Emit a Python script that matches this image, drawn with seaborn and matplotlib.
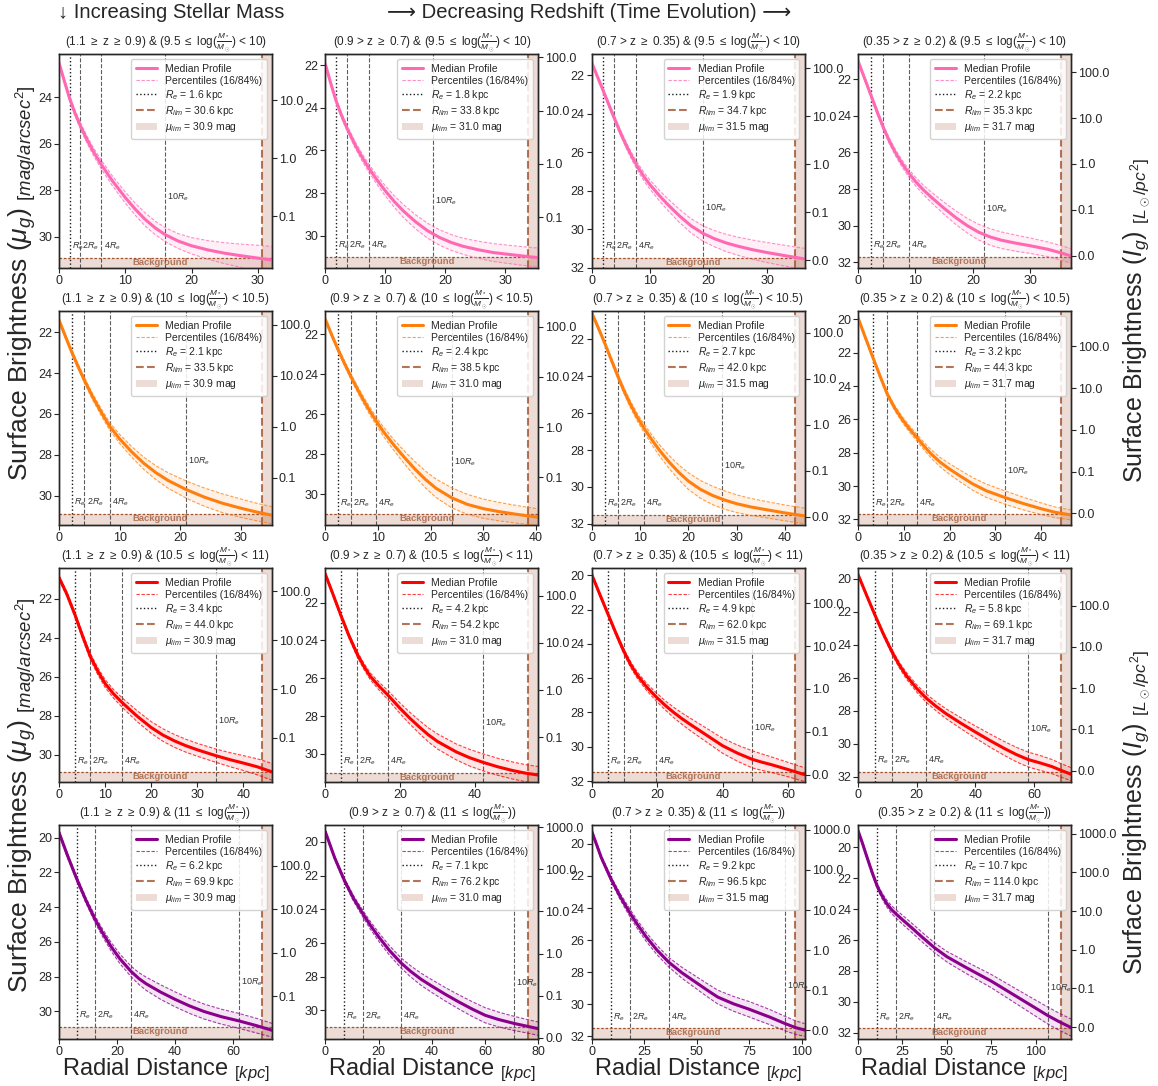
import numpy as np
import pandas as pd
import matplotlib
matplotlib.use("Agg")
import matplotlib.pyplot as plt
import seaborn as sns
from matplotlib.ticker import MultipleLocator, LogLocator, NullLocator, FormatStrFormatter

# ---------------- data ----------------
Z_LABELS = [r"(1.1 $\geq$ z $\geq$ 0.9)", r"(0.9 > z $\geq$ 0.7)",
            r"(0.7 > z $\geq$ 0.35)", r"(0.35 > z $\geq$ 0.2)"]
M_LABELS = [r"(9.5 $\leq$ log($\frac{M_*}{M_\odot}$) < 10)",
            r"(10 $\leq$ log($\frac{M_*}{M_\odot}$) < 10.5)",
            r"(10.5 $\leq$ log($\frac{M_*}{M_\odot}$) < 11)",
            r"(11 $\leq$ log($\frac{M_*}{M_\odot}$))"]
RE = [[1.6, 1.8, 1.9, 2.2],
      [2.1, 2.4, 2.7, 3.2],
      [3.4, 4.2, 4.9, 5.8],
      [6.2, 7.1, 9.2, 10.7]]
RLIM = [[30.6, 33.8, 34.7, 35.3],
        [33.5, 38.5, 42.0, 44.3],
        [44.0, 54.2, 62.0, 69.1],
        [69.9, 76.2, 96.5, 114.0]]
MU_LIM = [30.9, 31.0, 31.5, 31.7]
ROW_COLORS = ["hotpink", "#ff7f0e", "red", "darkmagenta"]

# median profiles (mu_g, mag/arcsec^2) and half-width of the 16/84 percentile band
R_1_1 = [0, 0.8, 1.6, 2.4, 3.2, 4.2, 5.2, 6.4, 8, 10, 11.5, 13, 14.5, 16, 18, 20, 22.5, 25, 27.5, 30, 32.2]
MU_1_1 = [22.53, 23.31, 24.06, 24.68, 25.22, 25.82, 26.35, 26.91, 27.58, 28.32, 28.82, 29.26, 29.62, 29.91, 30.19, 30.39, 30.57, 30.71, 30.82, 30.92, 31.0]
SD_1_1 = [0.08, 0.09, 0.11, 0.12, 0.14, 0.15, 0.17, 0.19, 0.21, 0.24, 0.26, 0.28, 0.29, 0.3, 0.32, 0.35, 0.4, 0.45, 0.5, 0.55, 0.58]

R_1_2 = [0, 0.9, 1.8, 2.7, 3.6, 5, 6.2, 7.2, 8.6, 10, 11.5, 13, 15, 17, 19, 21, 23, 25.5, 28, 31, 33.5, 35.5]
MU_1_2 = [21.95, 22.85, 23.68, 24.36, 24.95, 25.76, 26.36, 26.81, 27.38, 27.90, 28.40, 28.84, 29.34, 29.76, 30.08, 30.32, 30.50, 30.66, 30.79, 30.89, 30.97, 31.03]
SD_1_2 = [0.08, 0.09, 0.1, 0.12, 0.13, 0.15, 0.17, 0.19, 0.21, 0.24, 0.27, 0.3, 0.33, 0.35, 0.36, 0.37, 0.38, 0.4, 0.42, 0.43, 0.44, 0.45]

R_1_3 = [0, 1, 2, 3, 4, 5, 6, 7, 8, 9, 10, 11.5, 13, 15, 17, 19, 21, 23, 25, 27.5, 30, 33, 36.4]
MU_1_3 = [21.34, 22.08, 22.82, 23.58, 24.32, 25.04, 25.70, 26.30, 26.83, 27.30, 27.70, 28.23, 28.72, 29.31, 29.83, 30.22, 30.50, 30.72, 30.89, 31.07, 31.22, 31.38, 31.55]
SD_1_3 = [0.08, 0.09, 0.1, 0.12, 0.13, 0.14, 0.16, 0.18, 0.2, 0.22, 0.24, 0.27, 0.3, 0.34, 0.37, 0.4, 0.42, 0.45, 0.47, 0.5, 0.52, 0.54, 0.55]

R_1_4 = [0, 1.1, 2.2, 3.3, 4.4, 5.5, 6.5, 7.6, 8.8, 10, 11.5, 13, 15, 17, 19, 21, 23, 25, 27.5, 30, 33, 35, 37.1]
MU_1_4 = [21.0, 21.91, 22.83, 23.75, 24.63, 25.40, 26.0, 26.57, 27.11, 27.58, 28.08, 28.51, 29.05, 29.55, 29.99, 30.35, 30.61, 30.79, 30.95, 31.09, 31.28, 31.45, 31.65]
SD_1_4 = [0.08, 0.09, 0.1, 0.12, 0.13, 0.15, 0.17, 0.19, 0.21, 0.23, 0.26, 0.29, 0.33, 0.37, 0.4, 0.43, 0.45, 0.45, 0.44, 0.42, 0.4, 0.4, 0.4]

R_2_1 = [0, 1.05, 2.1, 3.15, 4.2, 5.5, 7, 8.4, 10, 12, 14, 16, 18, 21, 24, 27, 30, 32.5, 35.2]
MU_2_1 = [21.4, 22.19, 22.96, 23.67, 24.35, 25.13, 25.93, 26.62, 27.22, 27.86, 28.42, 28.88, 29.26, 29.71, 30.08, 30.38, 30.62, 30.80, 30.97]
SD_2_1 = [0.08, 0.09, 0.1, 0.12, 0.13, 0.15, 0.17, 0.19, 0.22, 0.26, 0.3, 0.34, 0.38, 0.42, 0.45, 0.46, 0.45, 0.43, 0.42]

R_2_2 = [0, 1.2, 2.4, 3.6, 4.8, 6, 7.2, 8.4, 9.6, 11, 13, 15, 17, 19, 21, 24, 27, 30, 33, 36.5, 40.4]
MU_2_2 = [21.25, 22.02, 22.75, 23.43, 24.08, 24.69, 25.27, 25.81, 26.31, 26.85, 27.53, 28.15, 28.73, 29.25, 29.69, 30.17, 30.50, 30.71, 30.86, 31.00, 31.14]
SD_2_2 = [0.08, 0.09, 0.1, 0.12, 0.13, 0.15, 0.17, 0.19, 0.2, 0.23, 0.27, 0.32, 0.37, 0.42, 0.46, 0.5, 0.5, 0.48, 0.46, 0.44, 0.42]

R_2_3 = [0, 1.35, 2.7, 4, 5.4, 6.7, 8, 9.4, 10.8, 12.5, 14, 16, 18, 20, 22.5, 25, 27.5, 30, 33, 36.5, 40, 44.1]
MU_2_3 = [20.55, 21.36, 22.20, 23.06, 23.98, 24.79, 25.51, 26.20, 26.80, 27.46, 28.00, 28.64, 29.20, 29.68, 30.13, 30.46, 30.71, 30.91, 31.09, 31.25, 31.41, 31.57]
SD_2_3 = [0.08, 0.09, 0.1, 0.12, 0.14, 0.16, 0.18, 0.2, 0.23, 0.26, 0.3, 0.35, 0.4, 0.45, 0.48, 0.5, 0.5, 0.48, 0.46, 0.44, 0.43, 0.42]

R_2_4 = [0, 1.6, 3.2, 4.8, 6.4, 8, 9.6, 11.2, 12.8, 14.5, 16, 18, 20, 22.5, 25, 28, 32, 36, 40, 43, 46.5]
MU_2_4 = [19.9, 21.08, 22.24, 23.39, 24.48, 25.31, 25.98, 26.56, 27.07, 27.63, 28.08, 28.58, 28.98, 29.43, 29.86, 30.28, 30.68, 31.04, 31.36, 31.57, 31.73]
SD_2_4 = [0.08, 0.09, 0.1, 0.12, 0.13, 0.15, 0.17, 0.19, 0.2, 0.22, 0.25, 0.28, 0.32, 0.35, 0.38, 0.4, 0.4, 0.38, 0.35, 0.32, 0.3]

R_3_1 = [0, 1.7, 3.4, 5.1, 6.8, 8.4, 10, 11.8, 13.6, 15.3, 17, 20, 22.5, 25, 27.5, 30, 34, 37, 40, 43, 46.2]
MU_3_1 = [20.92, 21.77, 22.79, 23.91, 24.97, 25.71, 26.35, 26.87, 27.30, 27.67, 28.03, 28.60, 28.98, 29.28, 29.53, 29.74, 30.04, 30.24, 30.42, 30.61, 30.87]
SD_3_1 = [0.1, 0.11, 0.12, 0.14, 0.16, 0.18, 0.2, 0.22, 0.24, 0.26, 0.28, 0.3, 0.32, 0.33, 0.33, 0.33, 0.34, 0.36, 0.38, 0.41, 0.43]

R_3_2 = [0, 2.1, 4.2, 6.3, 8.4, 10.2, 12, 14.4, 16.8, 20, 22.5, 25, 27.5, 30, 35, 38.5, 42, 46, 50, 53.5, 56.9]
MU_3_2 = [20.5, 21.59, 22.70, 23.75, 24.68, 25.34, 25.90, 26.43, 26.91, 27.60, 28.10, 28.56, 28.99, 29.35, 29.90, 30.20, 30.44, 30.68, 30.88, 31.02, 31.12]
SD_3_2 = [0.08, 0.09, 0.1, 0.12, 0.14, 0.16, 0.18, 0.21, 0.24, 0.28, 0.31, 0.34, 0.37, 0.4, 0.42, 0.44, 0.45, 0.45, 0.45, 0.45, 0.45]

R_3_3 = [0, 2.45, 4.9, 7.35, 9.8, 12, 14, 16.8, 19.6, 22.5, 25, 27.5, 30, 35, 40, 44.5, 49, 52, 55, 60, 65.1]
MU_3_3 = [19.94, 21.09, 22.22, 23.35, 24.42, 25.24, 25.84, 26.51, 27.07, 27.59, 27.99, 28.35, 28.68, 29.31, 29.94, 30.37, 30.73, 30.90, 31.05, 31.33, 31.63]
SD_3_3 = [0.08, 0.09, 0.1, 0.12, 0.15, 0.17, 0.19, 0.21, 0.24, 0.27, 0.3, 0.33, 0.36, 0.4, 0.44, 0.47, 0.5, 0.48, 0.45, 0.42, 0.4]

R_3_4 = [0, 2.9, 5.8, 8.7, 11.6, 14, 16.5, 20, 23.2, 26.5, 30, 35, 40, 45, 50, 54, 58, 62, 66, 69, 72.6]
MU_3_4 = [19.74, 20.99, 22.21, 23.37, 24.44, 25.21, 25.88, 26.65, 27.23, 27.72, 28.18, 28.75, 29.29, 29.81, 30.30, 30.66, 30.96, 31.16, 31.38, 31.60, 31.85]
SD_3_4 = [0.08, 0.09, 0.1, 0.12, 0.15, 0.17, 0.2, 0.22, 0.25, 0.27, 0.3, 0.33, 0.37, 0.4, 0.42, 0.44, 0.45, 0.45, 0.43, 0.41, 0.4]

R_4_1 = [0, 3.1, 6.2, 9.3, 12.4, 15, 18, 21, 24.8, 27.5, 30, 35, 40, 45, 50, 56, 62, 68, 73.4]
MU_4_1 = [19.71, 21.11, 22.41, 23.62, 24.70, 25.48, 26.29, 26.98, 27.70, 28.11, 28.41, 28.89, 29.31, 29.69, 30.01, 30.31, 30.55, 30.82, 31.09]
SD_4_1 = [0.1, 0.12, 0.14, 0.16, 0.19, 0.22, 0.25, 0.28, 0.3, 0.34, 0.38, 0.42, 0.43, 0.43, 0.43, 0.43, 0.43, 0.42, 0.4]

R_4_2 = [0, 3.5, 7.1, 10.6, 14.2, 17, 20, 24, 28.4, 32, 36, 40, 45, 50, 55, 60, 65, 71, 76, 80]
MU_4_2 = [19.4, 20.94, 22.27, 23.36, 24.29, 24.97, 25.63, 26.43, 27.18, 27.68, 28.16, 28.56, 29.04, 29.49, 29.91, 30.29, 30.54, 30.78, 30.95, 31.09]
SD_4_2 = [0.08, 0.1, 0.13, 0.17, 0.2, 0.23, 0.26, 0.28, 0.3, 0.33, 0.36, 0.38, 0.4, 0.42, 0.44, 0.45, 0.44, 0.42, 0.4, 0.4]

R_4_3 = [0, 4.6, 9.2, 13.8, 18.4, 22, 26, 31, 36.8, 43, 50, 55, 60, 67.5, 75, 80, 85, 92, 97, 101.3]
MU_4_3 = [19.2, 20.86, 22.19, 23.34, 24.35, 25.07, 25.81, 26.61, 27.39, 28.04, 28.67, 29.12, 29.55, 29.97, 30.31, 30.56, 30.81, 31.20, 31.45, 31.60]
SD_4_3 = [0.08, 0.12, 0.15, 0.2, 0.24, 0.26, 0.28, 0.29, 0.3, 0.34, 0.38, 0.41, 0.43, 0.46, 0.48, 0.48, 0.47, 0.45, 0.42, 0.4]

R_4_4 = [0, 2.4, 5, 8, 10.8, 13.4, 16, 18.7, 21.5, 25.8, 30, 36.5, 43, 50, 60, 75, 90, 100, 107, 113, 119.7]
MU_4_4 = [18.93, 19.71, 20.63, 21.65, 22.52, 23.12, 23.62, 24.02, 24.33, 24.77, 25.19, 25.86, 26.50, 27.08, 27.73, 28.66, 29.71, 30.41, 30.90, 31.27, 31.65]
SD_4_4 = [0.08, 0.1, 0.12, 0.14, 0.16, 0.19, 0.22, 0.25, 0.27, 0.29, 0.3, 0.31, 0.32, 0.34, 0.38, 0.43, 0.48, 0.52, 0.55, 0.55, 0.55]

PROFILES = [[(R_1_1, MU_1_1, SD_1_1), (R_1_2, MU_1_2, SD_1_2), (R_1_3, MU_1_3, SD_1_3), (R_1_4, MU_1_4, SD_1_4)],
            [(R_2_1, MU_2_1, SD_2_1), (R_2_2, MU_2_2, SD_2_2), (R_2_3, MU_2_3, SD_2_3), (R_2_4, MU_2_4, SD_2_4)],
            [(R_3_1, MU_3_1, SD_3_1), (R_3_2, MU_3_2, SD_3_2), (R_3_3, MU_3_3, SD_3_3), (R_3_4, MU_3_4, SD_3_4)],
            [(R_4_1, MU_4_1, SD_4_1), (R_4_2, MU_4_2, SD_4_2), (R_4_3, MU_4_3, SD_4_3), (R_4_4, MU_4_4, SD_4_4)]]

# ---------------- layout (axis limits in mag/arcsec^2) ----------------
YLIM_TOP = [[22.15, 21.48, 20.90, 20.63],
            [20.95, 20.83, 20.46, 19.50],
            [20.43, 20.17, 19.57, 19.35],
            [19.27, 18.99, 18.82, 18.57]]
YLIM_BOT = [[31.35, 31.52, 32.03, 32.31],
            [31.45, 31.53, 32.07, 32.34],
            [31.39, 31.49, 32.06, 32.32],
            [31.59, 31.70, 32.16, 32.39]]

MU0 = 26.63  # mu_g where I_g = 1 L_sun/pc^2


def mu_to_I(mu):
    return 10 ** (-0.4 * (np.asarray(mu) - MU0))


# ---------------- style ----------------
sns.set_theme(style="ticks")
plt.rcParams["font.family"] = ["Liberation Sans", "DejaVu Sans"]
plt.rcParams["mathtext.fontset"] = "custom"
plt.rcParams["mathtext.rm"] = "Liberation Sans"
plt.rcParams["mathtext.it"] = "Liberation Sans:italic"
plt.rcParams["mathtext.bf"] = "Liberation Sans:bold"
plt.rcParams["axes.edgecolor"] = "0.15"
plt.rcParams["axes.linewidth"] = 1.0
for a in ("xtick", "ytick"):
    plt.rcParams[f"{a}.major.size"] = 3.5
    plt.rcParams[f"{a}.major.width"] = 0.8
    plt.rcParams[f"{a}.labelsize"] = 9
    plt.rcParams[f"{a}.color"] = "0.15"

W, H = 1158, 1086
fig = plt.figure(figsize=(W / 100, H / 100), dpi=100)
gs = fig.add_gridspec(4, 4, left=59 / W, right=1071 / W, top=1 - 54 / H, bottom=1 - 1039 / H,
                      wspace=0.25, hspace=0.2)

BROWN = "sienna"

for i in range(4):
    for j in range(4):
        ax = fig.add_subplot(gs[i, j])
        R, MU, SD = (np.array(v, dtype=float) for v in PROFILES[i][j])
        c = ROW_COLORS[i]
        re, rlim, mlim = RE[i][j], RLIM[i][j], MU_LIM[j]
        xmax = 1.05 * rlim
        ytop, ybot = YLIM_TOP[i][j], YLIM_BOT[i][j]

        df = pd.DataFrame({"r": R, "mu": MU, "lo": MU - SD, "hi": MU + SD})
        ax.fill_between(df["r"], df["lo"], df["hi"], color=c, alpha=0.1, lw=0)
        sns.lineplot(data=df, x="r", y="mu", ax=ax, color=c, lw=2.2, sort=False,
                     label="Median Profile", zorder=5)
        ax.plot(df["r"], df["lo"], ls=(0, (3, 1.5)), color=c, lw=0.8, alpha=0.75,
                label="Percentiles (16/84%)", zorder=4)
        ax.plot(df["r"], df["hi"], ls=(0, (3, 1.5)), color=c, lw=0.8, alpha=0.75, zorder=4)

        ax.axvline(re, color="k", ls=":", lw=1, label=f"$R_e$ = {re:.1f} kpc")
        for k in (2, 4, 10):
            ax.axvline(k * re, color="k", ls="--", lw=0.8, alpha=0.7)
        ax.axvline(rlim, color=BROWN, ls="--", lw=1.5, alpha=0.8,
                   label=f"$R_{{lim}}$ = {rlim:.1f} kpc")
        ax.axvspan(rlim, xmax, color=BROWN, alpha=0.2, lw=0)
        ax.axhspan(mlim, ybot, color=BROWN, alpha=0.2, lw=0,
                   label=f"$\\mu_{{lim}}$ = {mlim:.1f} mag")
        ax.axhline(mlim, color=BROWN, ls=(0, (2, 1.5)), lw=0.9)

        for k, lab in ((1, "$R_e$"), (2, "$2R_e$"), (4, "$4R_e$")):
            ax.annotate(lab, xy=(k * re, mlim), xytext=(1.5, 4), textcoords="offset points",
                        fontsize=6.5, ha="left", va="bottom", color="0.2")
        ax.annotate("$10R_e$", xy=(10 * re, mlim - 2.6), xytext=(1.5, 0), textcoords="offset points",
                    fontsize=6.5, ha="left", va="center", color="0.2")
        ax.text(rlim / 2, mlim, "Background", fontsize=6.8, fontweight="bold",
                color=BROWN, alpha=0.75, ha="center", va="top")

        ax.set_xlim(0, xmax)
        ax.set_ylim(ybot, ytop)
        ax.yaxis.set_major_locator(MultipleLocator(2))
        ax.set_xlabel("")
        ax.set_ylabel("")
        ax.set_title(f"{Z_LABELS[j]} & {M_LABELS[i]}", fontsize=8.5, pad=4)
        ax.legend(loc="upper right", fontsize=7.5, framealpha=0.85, handlelength=2.0,
                  borderpad=0.45, labelspacing=0.2, edgecolor="0.8", fancybox=True)
        ax.tick_params(axis="both", labelsize=9, pad=1.5)

        ax2 = ax.twinx()
        ax2.set_yscale("log")
        ax2.set_ylim(mu_to_I(ybot), mu_to_I(ytop))
        ax2.yaxis.set_major_locator(LogLocator(base=10, numticks=12))
        ax2.yaxis.set_minor_locator(NullLocator())
        ax2.yaxis.set_major_formatter(FormatStrFormatter("%.1f"))
        ax2.tick_params(axis="y", labelsize=9, pad=1.5)

        if i == 3:
            ax.set_xlabel(r"Radial Distance $_{[kpc]}$", fontsize=17, labelpad=-1)

ylab_l = r"Surface Brightness ($\mu_g$) $_{[mag/arcsec^2]}$"
ylab_r = r"Surface Brightness ($I_g$) $_{[L_\odot/pc^2]}$"
for yc in (1 - 283 / H, 1 - 795 / H):
    fig.text(22 / W, yc, ylab_l, rotation=90, ha="center", va="center", fontsize=19)
for yc in (1 - 320 / H, 1 - 812 / H):
    fig.text(1137 / W, yc, ylab_r, rotation=90, ha="center", va="center", fontsize=18)

fig.text(58 / W, 1 - 12 / H, "↓ Increasing Stellar Mass", fontsize=14.6, ha="left", va="center")
fig.text(589 / W, 1 - 12 / H, "⟶ Decreasing Redshift (Time Evolution) ⟶", fontsize=14.6,
         ha="center", va="center")

fig.savefig("out.png", dpi=100)
